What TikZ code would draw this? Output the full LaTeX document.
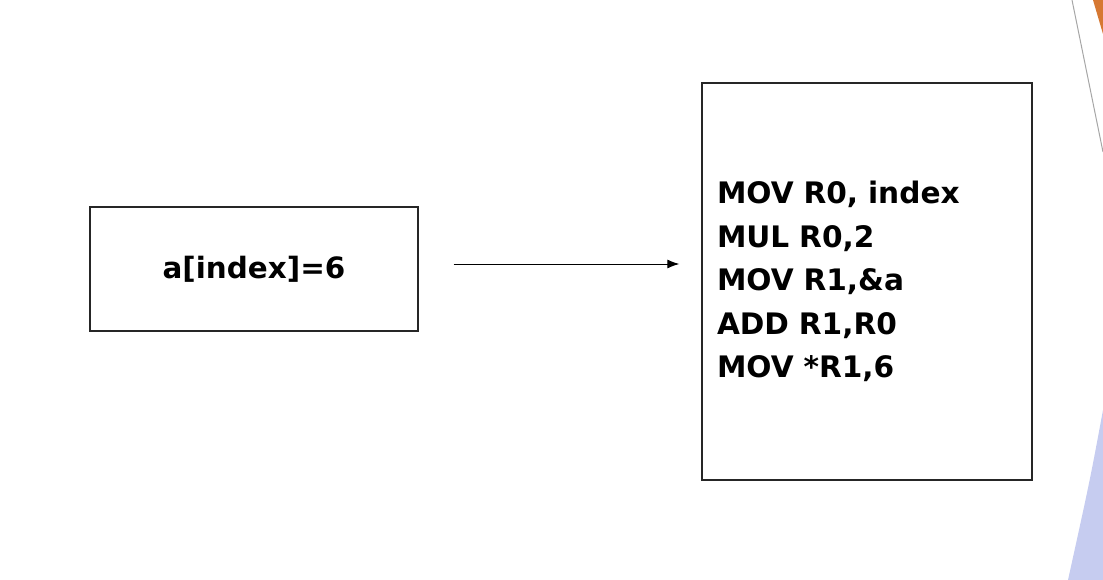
\documentclass[tikz,border=0pt]{standalone}
\usepackage{fontspec}
\setmainfont{DejaVu Sans}
\usetikzlibrary{positioning}
\usetikzlibrary{arrows.meta}
\definecolor{slideorange}{RGB}{214,120,50}
\definecolor{slideblue}{RGB}{198,204,240}
\tikzstyle{stmtbox}=[draw=black!85, line width=1.3pt, minimum width=328pt, minimum height=124pt, inner sep=0pt, font=\bfseries\fontsize{29.4}{34}\selectfont]
\tikzstyle{asmbox}=[draw=black!85, line width=1.3pt, minimum width=330pt, minimum height=397pt, text width=300pt, align=left, inner xsep=15pt, font=\bfseries\fontsize{29.6}{43.5}\selectfont]
\tikzstyle{flow}=[-{Latex[length=12pt,width=9pt]}, line width=1pt]

\begin{document}
\begin{tikzpicture}[x=1pt, y=1pt]
            \useasboundingbox (0,0) rectangle (1103,-580);
            % slide corners
            \fill[slideorange] (1093,0) -- (1103,0) -- (1103,-34) -- cycle;
            \draw[black!35, line width=1pt] (1072,0) -- (1103,-152);
            \fill[slideblue] (1103,-410) .. controls (1090,-480) .. (1068,-580) -- (1103,-580) -- cycle;

            \node[stmtbox] (src) at (254,-269) {a[index]=6};
            \node[asmbox] (asm) at (867,-281.5) {MOV R0, index\\MUL R0,2\\MOV R1,\&a\\ADD R1,R0\\MOV *R1,6};

            \draw[flow, shorten <=35pt, shorten >=22pt] ([yshift=5pt]src.east) -- ([yshift=5pt]src.east -| asm.west);
        \end{tikzpicture}
\end{document}
